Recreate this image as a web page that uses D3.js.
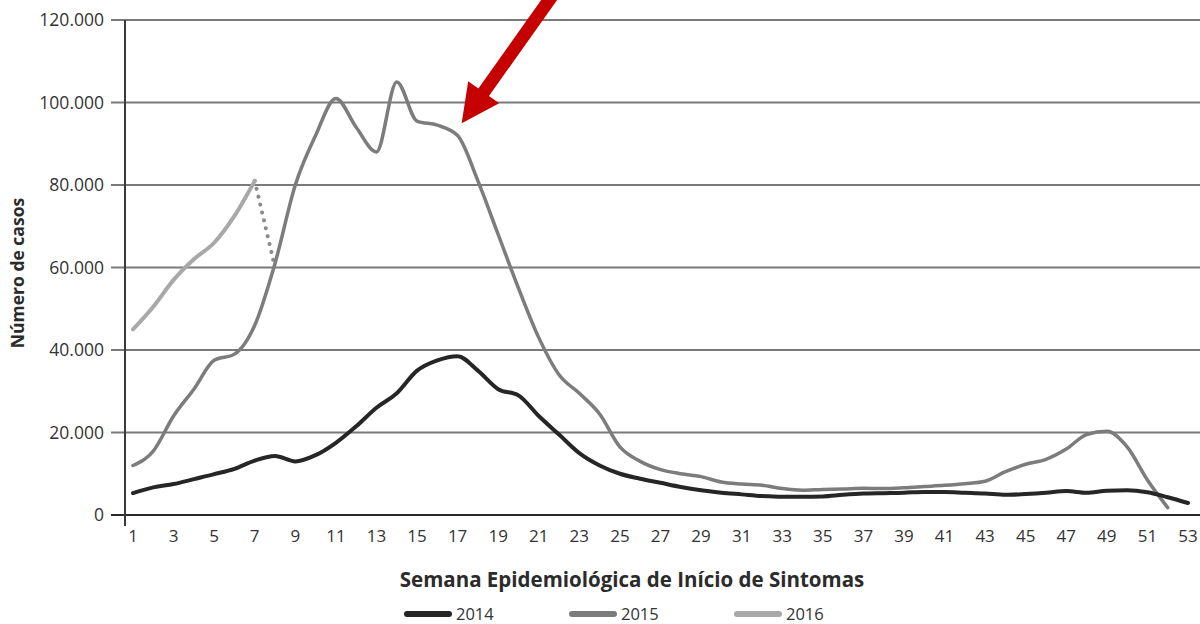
<!DOCTYPE html>
<html>
<head>
<meta charset="utf-8">
<script src="https://cdn.jsdelivr.net/npm/d3@7"></script>
<style>
  body { margin: 0; background: #fff; }
  svg { display: block; font-family: "Open Sans", "Noto Sans", sans-serif; }
</style>
</head>
<body>
<div id="chart"></div>
<script>
// semanas epidemiológicas
var weeks = d3.range(1, 54);
var tickWeeks = d3.range(1, 54, 2);
var yTicks = [0, 20000, 40000, 60000, 80000, 100000, 120000];

// casos por semana
var cases2014 = [5300, 6700, 7500, 8700, 9900, 11200, 13200, 14300, 13000, 14500,
    17500, 21500, 26000, 29500, 35000, 37500, 38500, 35000, 30500, 29000,
    24000, 19500, 15000, 12000, 10000, 8800, 7800, 6800, 6000, 5400,
    5000, 4600, 4400, 4400, 4500, 4900, 5200, 5300, 5400, 5600,
    5600, 5400, 5200, 4900, 5100, 5400, 5800, 5400, 5900, 6000,
    5500, 4300, 2900];
var cases2015 = [12000, 15500, 24000, 30500, 37500, 39000, 46000, 61000, 80000, 92000,
    101000, 94000, 88000, 105000, 95500, 94500, 92000, 81000, 68000, 55000,
    43000, 34000, 29500, 24500, 16500, 13000, 11000, 10000, 9300, 8000,
    7500, 7200, 6400, 6000, 6200, 6300, 6500, 6400, 6600, 6900,
    7200, 7600, 8200, 10500, 12300, 13500, 16000, 19500, 20300, 16500,
    8500, 1800];
var cases2016 = [45000, 50500, 57000, 62000, 66000, 72500, 81000];
var cases2016Proj = [81000, 60000]; // semanas 7-8, pontilhado

var seriesNames = ["2014", "2015", "2016"];
var seriesColors = ["#262626", "#7c7c7c", "#a8a8a8"];

var width = 1200, height = 624;
var svg = d3.select("#chart").append("svg")
    .attr("width", width)
    .attr("height", height);

var x = d3.scaleLinear().domain([1, 53]).range([133, 1188]);
var y = d3.scaleLinear().domain([0, 120000]).range([515, 20]);

// linhas de grade
svg.append("g")
    .selectAll("line")
    .data(yTicks.filter(function (d) { return d > 0; }))
    .enter()
    .append("line")
    .attr("x1", 111)
    .attr("x2", width)
    .attr("y1", function (d) { return y(d); })
    .attr("y2", function (d) { return y(d); })
    .style("stroke", "#7a7a7a")
    .style("stroke-width", "2px");

// eixo x (linha do zero)
svg.append("line")
    .attr("x1", 111).attr("x2", width)
    .attr("y1", y(0)).attr("y2", y(0))
    .style("stroke", "#2a2a2a")
    .style("stroke-width", "2px");

// eixo y
svg.append("line")
    .attr("x1", 125).attr("x2", 125)
    .attr("y1", y(120000)).attr("y2", y(0) + 11)
    .style("stroke", "#3a3a3a")
    .style("stroke-width", "2px");

var fmtY = function (d) {
    return d === 0 ? "0" : d3.format(",.0f")(d).replace(/,/g, ".");
};

svg.append("g")
    .selectAll("text")
    .data(yTicks)
    .enter()
    .append("text")
    .attr("x", 104)
    .attr("y", function (d) { return y(d); })
    .attr("dy", "0.36em")
    .attr("text-anchor", "end")
    .text(fmtY)
    .style("font-size", "17.5px")
    .style("fill", "#333");

svg.append("g")
    .selectAll("text")
    .data(tickWeeks)
    .enter()
    .append("text")
    .attr("x", function (d) { return x(d); })
    .attr("y", 542)
    .attr("text-anchor", "middle")
    .text(function (d) { return d; })
    .style("font-size", "17px")
    .style("fill", "#333");

// títulos dos eixos
svg.append("text")
    .attr("x", 632)
    .attr("y", 587)
    .attr("text-anchor", "middle")
    .text("Semana Epidemiológica de Início de Sintomas")
    .style("font-size", "20.5px")
    .style("font-weight", "bold")
    .style("fill", "#2b2b2b");

svg.append("text")
    .attr("transform", "translate(24,273) rotate(-90)")
    .attr("text-anchor", "middle")
    .text("Número de casos")
    .style("font-size", "17.5px")
    .style("font-weight", "bold")
    .style("fill", "#2b2b2b");

// séries
var line = d3.line()
    .x(function (d) { return x(d.w); })
    .y(function (d) { return y(d.v); })
    .curve(d3.curveMonotoneX);

function toPoints(arr, start) {
    return arr.map(function (v, i) { return {w: start + i, v: v}; });
}

var lines = [
    {pts: toPoints(cases2016, 1), color: seriesColors[2], w: 4},
    {pts: toPoints(cases2015, 1), color: seriesColors[1], w: 3.5},
    {pts: toPoints(cases2014, 1), color: seriesColors[0], w: 4}
];

svg.append("path")
    .attr("d", line(toPoints(cases2016Proj, 7)))
    .style("fill", "none")
    .style("stroke", "#8c8c8c")
    .style("stroke-width", "4px")
    .style("stroke-linecap", "round")
    .style("stroke-dasharray", "0.1 8");

svg.selectAll("path.serie")
    .data(lines)
    .enter()
    .append("path")
    .attr("class", "serie")
    .attr("d", function (d) { return line(d.pts); })
    .style("fill", "none")
    .style("stroke", function (d) { return d.color; })
    .style("stroke-width", function (d) { return d.w + "px"; })
    .style("stroke-linejoin", "round")
    .style("stroke-linecap", "round");

// legenda
var legend = svg.append("g")
    .selectAll("g")
    .data(seriesNames)
    .enter()
    .append("g")
    .attr("transform", function (d, i) { return "translate(" + (407 + i * 165) + ",614)"; });

legend.append("line")
    .attr("x1", 0).attr("x2", 42)
    .style("stroke", function (d, i) { return seriesColors[i]; })
    .style("stroke-width", "6px")
    .style("stroke-linecap", "round");

legend.append("text")
    .attr("x", 49)
    .attr("dy", "0.36em")
    .text(function (d) { return d; })
    .style("font-size", "16.5px")
    .style("fill", "#333");

// seta vermelha apontando para a semana 17 de 2015
var tip = [x(17.2), y(95000)];
var tail = [552, -4];
var dx = tip[0] - tail[0], dy = tip[1] - tail[1];
var len = Math.sqrt(dx * dx + dy * dy);
var ux = dx / len, uy = dy / len;
var px = -uy, py = ux;
var headLen = 38, headW = 19, shaftW = 6.5;
var bx = tip[0] - ux * headLen, by = tip[1] - uy * headLen;
var arrowPts = [
    [tail[0] + px * shaftW, tail[1] + py * shaftW],
    [bx + px * shaftW, by + py * shaftW],
    [bx + px * headW, by + py * headW],
    tip,
    [bx - px * headW, by - py * headW],
    [bx - px * shaftW, by - py * shaftW],
    [tail[0] - px * shaftW, tail[1] - py * shaftW]
];
svg.append("path")
    .attr("d", d3.line()(arrowPts) + "Z")
    .style("fill", "#c40000");
</script>
</body>
</html>
